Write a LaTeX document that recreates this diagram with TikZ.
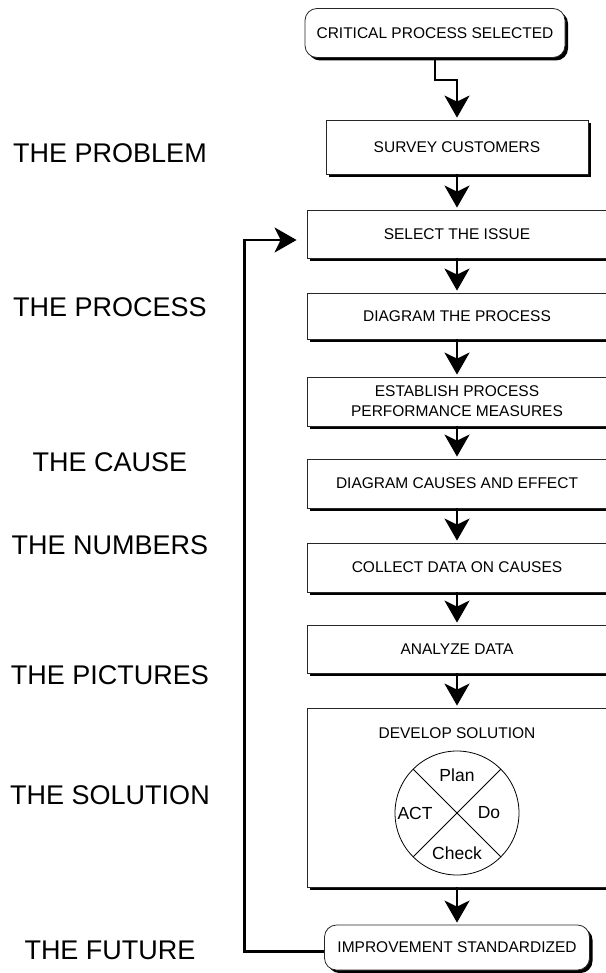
\documentclass[tikz,border=0pt]{standalone}
\usepackage{fontspec}
\setmainfont{Liberation Sans}
\usetikzlibrary{arrows.meta}
\usetikzlibrary{shadows}
\usetikzlibrary{positioning}

\tikzset{
  stepbox/.style={draw=black!85, line width=0.8pt, fill=white, minimum width=300pt,
    minimum height=48pt, inner sep=0pt, align=center, font=\fontsize{15.5}{20}\selectfont,
    drop shadow={shadow xshift=3pt, shadow yshift=-3pt, fill=black, opacity=1}},
  endbox/.style={stepbox, rounded corners=12pt},
  flow/.style={-{Stealth[length=22pt, width=25pt, inset=6pt]}, line width=2.5pt, shorten >=2pt},
  stage/.style={font=\fontsize{27}{30}\selectfont},
  pdca/.style={font=\fontsize{17.5}{20}\selectfont}
}

\begin{document}
\begin{tikzpicture}[x=1pt, y=-1pt, line join=miter]
  \useasboundingbox (0,0) rectangle (605,973);
  %--- Stages
    \node[stage] (problem) at (110,153) {THE PROBLEM};
    \node[stage] (process) at (110,307) {THE PROCESS};
    \node[stage] (cause) at (110,462) {THE CAUSE};
    \node[stage] (numbers) at (110,545) {THE NUMBERS};
    \node[stage] (pictures) at (110,675) {THE PICTURES};
    \node[stage] (solution) at (110,795) {THE SOLUTION};
    \node[stage] (future) at (110,950) {THE FUTURE};
  %--- Steps
    \node[endbox, minimum width=260pt, minimum height=49pt] (critical) at (435,33) {CRITICAL PROCESS SELECTED};
    \node[stepbox, minimum width=262pt, minimum height=54pt] (survey) at (457,147) {SURVEY CUSTOMERS};
    \node[stepbox] (select) at (457,234) {SELECT THE ISSUE};
    \node[stepbox, minimum height=46pt] (diagram) at (457,316) {DIAGRAM THE PROCESS};
    \node[stepbox, minimum height=49pt] (measures) at (457,401.5) {ESTABLISH PROCESS\\PERFORMANCE MEASURES};
    \node[stepbox, minimum height=49pt] (causes) at (457,483.5) {DIAGRAM CAUSES AND EFFECT};
    \node[stepbox, minimum height=49pt] (collect) at (457,567.5) {COLLECT DATA ON CAUSES};
    \node[stepbox] (analyze) at (457,649) {ANALYZE DATA};
    \node[stepbox, minimum height=179pt] (develop) at (457,797.5) {};
    \node[endbox, minimum width=265pt, minimum height=45pt] (improve) at (457,947.5) {IMPROVEMENT STANDARDIZED};
  %--- Develop solution
    \node[font=\fontsize{15.5}{20}\selectfont] (devtitle) at (457,733) {DEVELOP SOLUTION};
    \node[draw, circle, line width=0.8pt, minimum size=124pt, inner sep=0pt] (wheel) at (457,813) {};
    \draw[line width=0.8pt] (wheel.45) -- (wheel.225) (wheel.135) -- (wheel.315);
    \node[pdca] (plan) at (457,775) {Plan};
    \node[pdca] (do) at (489,813) {Do};
    \node[pdca] (check) at (457,853) {Check};
    \node[pdca] (act) at (415,813) {ACT};
  %--- Flow
    \draw[flow] (critical.south) -- ++(0,22) -| (survey.north);
    \foreach \a/\b in {survey/select, select/diagram, diagram/measures, measures/causes,
                       causes/collect, collect/analyze, analyze/develop, develop/improve}
      \draw[flow] (\a.south) -- (\b.north);
  %--- Loop back
    \draw[flow, shorten >=10pt] ([yshift=-4pt]improve.west) -| ([xshift=-62pt, yshift=-6pt]select.west)
      -- ([yshift=-6pt]select.west);
\end{tikzpicture}
\end{document}
